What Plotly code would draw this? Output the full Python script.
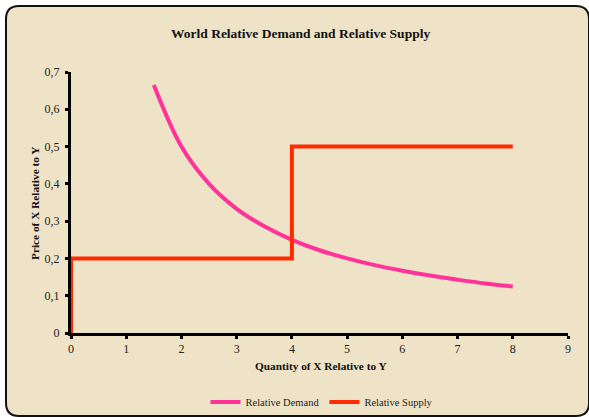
import plotly.graph_objects as go

# Data
demand_x = [1.5, 2.0, 2.5, 3.0, 3.5, 4.0, 4.5, 5.0, 5.5, 6.0, 6.5, 7.0, 7.5, 8.0]
demand_y = [0.665, 0.5, 0.4, 0.333, 0.286, 0.25, 0.222, 0.2, 0.182, 0.167, 0.154, 0.143, 0.133, 0.125]
supply_x = [0, 0, 4, 4, 8]
supply_y = [0, 0.2, 0.2, 0.5, 0.5]
x_ticks = [0, 1, 2, 3, 4, 5, 6, 7, 8, 9]
x_labels = ["0", "1", "2", "3", "4", "5", "6", "7", "8", "9"]
y_ticks = [0, 0.1, 0.2, 0.3, 0.4, 0.5, 0.6, 0.7]
y_labels = ["0", "0,1", "0,2", "0,3", "0,4", "0,5", "0,6", "0,7"]

W, H = 589, 417
L, R, T, B = 71, 21, 72, 84
PW, PH = W - L - R, H - T - B

def px(x):
    return (x - L) / PW

def py(y):
    return (H - B - y) / PH

FONT = "Liberation Serif, Times New Roman, serif"

fig = go.Figure()
fig.add_trace(go.Scatter(x=demand_x, y=demand_y, mode="lines", name="Relative Demand",
                         line=dict(color="#FF3399", width=4, shape="spline")))
fig.add_trace(go.Scatter(x=supply_x, y=supply_y, mode="lines", name="Relative Supply",
                         line=dict(color="#FF2A00", width=4)))

# Rounded panel border
x0, x1, y0, y1, r = 6, 589, 6, 416, 13
path = (f"M {px(x0+r)} {py(y0)} L {px(x1-r)} {py(y0)} Q {px(x1)} {py(y0)} {px(x1)} {py(y0+r)} "
        f"L {px(x1)} {py(y1-r)} Q {px(x1)} {py(y1)} {px(x1-r)} {py(y1)} "
        f"L {px(x0+r)} {py(y1)} Q {px(x0)} {py(y1)} {px(x0)} {py(y1-r)} "
        f"L {px(x0)} {py(y0+r)} Q {px(x0)} {py(y0)} {px(x0+r)} {py(y0)} Z")
fig.add_shape(type="path", path=path, xref="paper", yref="paper", layer="below",
              fillcolor="#EFE3C7", line=dict(color="#111111", width=2))

fig.add_annotation(text="<b>World Relative Demand and Relative Supply</b>", x=px(300), y=py(33),
                   xref="paper", yref="paper", showarrow=False, xanchor="center", yanchor="middle",
                   font=dict(family=FONT, size=13.5, color="#111111"))
fig.add_annotation(text="<b>Quantity of X Relative to Y</b>", x=px(321), y=py(366),
                   xref="paper", yref="paper", showarrow=False, xanchor="center", yanchor="middle",
                   font=dict(family=FONT, size=11.3, color="#111111"))
fig.add_annotation(text="<b>Price of X Relative to Y</b>", x=px(35), y=py(204), textangle=-90,
                   xref="paper", yref="paper", showarrow=False, xanchor="center", yanchor="middle",
                   font=dict(family=FONT, size=11.3, color="#111111"))

fig.update_layout(
    width=W, height=H, margin=dict(l=L, r=R, t=T, b=B, autoexpand=False),
    paper_bgcolor="white", plot_bgcolor="rgba(0,0,0,0)",
    font=dict(family=FONT, size=12, color="#222222"),
    showlegend=True,
    legend=dict(orientation="h", x=px(322), y=py(402), xanchor="center", yanchor="middle",
                bgcolor="rgba(0,0,0,0)", font=dict(family=FONT, size=10.5, color="#222222"),
                itemwidth=30, tracegroupgap=0),
)
fig.update_xaxes(range=[0, 9], tickvals=x_ticks, ticktext=x_labels, showgrid=False, zeroline=False,
                 showline=True, linecolor="black", linewidth=3, ticks="outside", ticklen=3,
                 tickwidth=3, tickcolor="black", layer="below traces")
fig.update_yaxes(range=[0, 0.7], tickvals=y_ticks, ticktext=y_labels, showgrid=False, zeroline=False,
                 showline=True, linecolor="black", linewidth=3, ticks="outside", ticklen=3,
                 tickwidth=3, tickcolor="black", layer="below traces", ticklabelstandoff=3)

fig.write_html("out.html", config={"displayModeBar": False},
               post_script="document.body.style.margin='0';")
